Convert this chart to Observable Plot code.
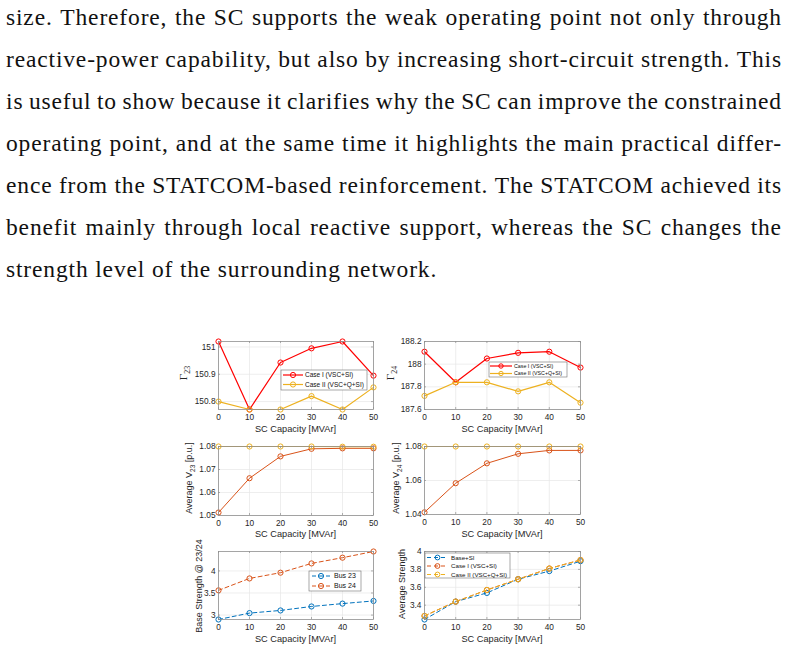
<!DOCTYPE html>
<html>
<head>
<meta charset="utf-8">
<script src="https://cdn.jsdelivr.net/npm/d3@7"></script>
<script src="https://cdn.jsdelivr.net/npm/@observablehq/plot@0.6"></script>
<style>
  html, body { margin: 0; padding: 0; background: #fff; }
  #page { position: relative; width: 788px; height: 651px; overflow: hidden; background: #fff; }
  #text { position: absolute; left: 6px; top: -4px; width: 776px;
          font-family: "Liberation Serif", serif; font-size: 23.5px; letter-spacing: 0.85px; color: #111; }
  .ln { height: 42px; line-height: 42px; white-space: nowrap; width: 776px; }
  .ln.flex { display: flex; justify-content: space-between; }
</style>
</head>
<body>
<div id="page">
  <div id="text"></div>
</div>
<script>
// ---------------- data ----------------
const paragraphLines = [
  "size. Therefore, the SC supports the weak operating point not only through",
  "reactive-power capability, but also by increasing short-circuit strength. This",
  "is useful to show because it clarifies why the SC can improve the constrained",
  "operating point, and at the same time it highlights the main practical differ-",
  "ence from the STATCOM-based reinforcement. The STATCOM achieved its",
  "benefit mainly through local reactive support, whereas the SC changes the",
  "strength level of the surrounding network."
];

const scCapacity = [0, 10, 20, 30, 40, 50];
const xTicks = [0, 10, 20, 30, 40, 50];

const gamma23CaseI  = [151.02, 150.771, 150.943, 150.995, 151.02, 150.895];
const gamma23CaseII = [150.80, 150.771, 150.771, 150.82, 150.771, 150.852];
const gamma23Ticks  = [150.8, 150.9, 151];
const gamma23Range  = [150.771, 151.02];

const gamma24CaseI  = [188.11, 187.84, 188.05, 188.10, 188.11, 187.97];
const gamma24CaseII = [187.72, 187.84, 187.84, 187.76, 187.84, 187.66];
const gamma24Ticks  = [187.6, 187.8, 188, 188.2];
const gamma24Range  = [187.6, 188.2];

const v23CaseI  = [1.0513, 1.0662, 1.0757, 1.0790, 1.0792, 1.0792];
const v23CaseII = [1.0800, 1.0800, 1.0800, 1.0800, 1.0799, 1.0799];
const v23Ticks  = [1.05, 1.06, 1.07, 1.08];
const v23Range  = [1.05, 1.08];

const v24CaseI  = [1.0413, 1.0584, 1.0701, 1.0757, 1.0777, 1.0777];
const v24CaseII = [1.0800, 1.0800, 1.0800, 1.0800, 1.0800, 1.0800];
const v24Ticks  = [1.04, 1.06, 1.08];
const v24Range  = [1.04, 1.08];

const strengthBus23 = [2.90, 3.045, 3.105, 3.195, 3.26, 3.32];
const strengthBus24 = [3.56, 3.83, 3.96, 4.17, 4.30, 4.44];
const baseStrengthTicks = [3, 3.5, 4];
const baseStrengthRange = [2.9, 4.44];

const avgStrengthBase   = [3.24, 3.44, 3.537, 3.69, 3.781, 3.892];
const avgStrengthCaseI  = [3.28, 3.44, 3.57, 3.69, 3.81, 3.905];
const avgStrengthCaseII = [3.28, 3.44, 3.57, 3.69, 3.81, 3.905];
const avgStrengthTicks  = [3.4, 3.6, 3.8, 4];
const avgStrengthRange  = [3.24, 4];

const labelCaseI  = "Case I (VSC+SI)";
const labelCaseII = "Case II (VSC+Q+SI)";
const labelBus23  = "Bus 23";
const labelBus24  = "Bus 24";
const labelBase   = "Base+SI";
const xLabel      = "SC Capacity [MVAr]";

// ---------------- styles ----------------
const RED = "#ff0000", YEL = "#edb120", ORA = "#d95319", BLU = "#0072bd";
const GRID = "#e6e6e6", FRAME = "#8f8f8f", TXT = "#262626";
const SANS = "Liberation Sans, Arial, sans-serif";
const SERIF = "Liberation Serif, serif";

// paragraph: every line except the last is justified to the full width
const textDiv = document.getElementById("text");
const BASE_LS = 0.85, MIN_GAP = 5.5, LINE_W = 776;
paragraphLines.forEach((t, i) => {
  const last = i === paragraphLines.length - 1;
  const d = document.createElement("div");
  d.className = "ln" + (last ? "" : " flex");
  textDiv.appendChild(d);
  if (last) { d.textContent = t; return; }
  const words = t.split(" ");
  const spans = words.map(w => {
    const s = document.createElement("span");
    s.textContent = w;
    d.appendChild(s);
    return s;
  });
  const wsum = spans.reduce((a, s) => a + s.getBoundingClientRect().width, 0);
  const avail = LINE_W - MIN_GAP * (words.length - 1);
  if (wsum > avail) {
    const chars = t.replace(/ /g, "").length;
    d.style.letterSpacing = (BASE_LS - (wsum - avail) / chars) + "px";
  }
});

const panels = [
  { frame: [218, 373, 341, 409], domain: gamma23Range, yTicks: gamma23Ticks,
    series: [{ values: gamma23CaseI, color: RED, label: labelCaseI, w: 1.2 },
             { values: gamma23CaseII, color: YEL, label: labelCaseII, w: 1.2 }],
    ylabel: { x: 187, y: 373, font: SERIF, size: 11, parts: [["Γ"], ["23", true]] },
    xlab: 432,
    legend: { box: [281, 367, 370, 390], rows: [375, 384.5], line: [283, 303], text: 305, size: 6.5, r: 2.6 } },
  { frame: [424, 580, 341, 409], domain: gamma24Range, yTicks: gamma24Ticks,
    series: [{ values: gamma24CaseI, color: RED, label: labelCaseI, w: 1.2 },
             { values: gamma24CaseII, color: YEL, label: labelCaseII, w: 1.2 }],
    ylabel: { x: 394, y: 373, font: SERIF, size: 11, parts: [["Γ"], ["24", true]] },
    xlab: 432,
    legend: { box: [489, 567, 362, 377], rows: [366, 373.5], line: [490, 512], text: 514, size: 5.3, r: 2.2 } },
  { frame: [218, 373, 446, 515], domain: v23Range, yTicks: v23Ticks,
    series: [{ values: v23CaseI, color: ORA, w: 1 },
             { values: v23CaseII, color: YEL, w: 1.2 }],
    ylabel: { x: 192, y: 478, font: SANS, size: 9, parts: [["Average V"], ["23", true], [" [p.u.]"]] },
    xlab: 537 },
  { frame: [424, 580, 446, 514], domain: v24Range, yTicks: v24Ticks,
    series: [{ values: v24CaseI, color: ORA, w: 1 },
             { values: v24CaseII, color: YEL, w: 1.2 }],
    ylabel: { x: 399, y: 478, font: SANS, size: 9, parts: [["Average V"], ["24", true], [" [p.u.]"]] },
    xlab: 537 },
  { frame: [218, 373, 551, 619], domain: baseStrengthRange, yTicks: baseStrengthTicks,
    series: [{ values: strengthBus23, color: BLU, label: labelBus23, dash: "4,3", w: 1 },
             { values: strengthBus24, color: ORA, label: labelBus24, dash: "4,3", w: 1 }],
    ylabel: { x: 202, y: 586, font: SANS, size: 9, parts: [["Base Strength @ 23/24"]] },
    xlab: 642,
    legend: { box: [309, 361, 571, 591], rows: [576, 586], line: [312, 330], text: 334, size: 7, r: 2.6, dash: "4,3" } },
  { frame: [424, 580, 551, 619], domain: avgStrengthRange, yTicks: avgStrengthTicks,
    series: [{ values: avgStrengthBase, color: BLU, label: labelBase, dash: "4,3", w: 1 },
             { values: avgStrengthCaseI, color: ORA, label: labelCaseI, dash: "4,3", w: 1 },
             { values: avgStrengthCaseII, color: YEL, label: labelCaseII, dash: "4,3", w: 1 }],
    ylabel: { x: 405, y: 584, font: SANS, size: 9, parts: [["Average Strength"]] },
    xlab: 642,
    legend: { box: [425, 510, 553, 578], rows: [557.5, 566, 574.5], line: [427, 448], text: 451, size: 6.2, r: 2.4, dash: "4,3" } }
];

const page = document.getElementById("page");

for (const p of panels) {
  const [x0, x1, y0, y1] = p.frame;
  const ML = 52, MR = 14, MT = 10, MB = 36;
  const pw = x1 - x0, ph = y1 - y0;
  const W = pw + ML + MR, H = ph + MT + MB;
  const marks = [
    Plot.gridX(xTicks, { stroke: GRID, strokeOpacity: 1, strokeWidth: 0.7 }),
    Plot.gridY(p.yTicks, { stroke: GRID, strokeOpacity: 1, strokeWidth: 0.7 })
  ];
  for (const s of p.series) {
    const data = scCapacity.map((x, i) => ({ x, y: s.values[i] }));
    marks.push(Plot.line(data, { x: "x", y: "y", stroke: s.color, strokeWidth: s.w, strokeDasharray: s.dash }));
    marks.push(Plot.dot(data, { x: "x", y: "y", r: 2.6, stroke: s.color, fill: "none", strokeWidth: 1 }));
  }
  marks.push(Plot.frame({ stroke: FRAME, strokeWidth: 0.8 }));
  marks.push(Plot.tickX(xTicks, { x: d => d, insetTop: ph - 2, stroke: FRAME, strokeWidth: 0.7 }));
  marks.push(Plot.tickX(xTicks, { x: d => d, insetBottom: ph - 2, stroke: FRAME, strokeWidth: 0.7 }));
  marks.push(Plot.tickY(p.yTicks, { y: d => d, insetRight: pw - 2, stroke: FRAME, strokeWidth: 0.7 }));
  marks.push(Plot.tickY(p.yTicks, { y: d => d, insetLeft: pw - 2, stroke: FRAME, strokeWidth: 0.7 }));
  marks.push(Plot.axisX(xTicks, { tickSize: 0, tickPadding: 5, fontSize: 8.3, fill: TXT, label: null }));
  marks.push(Plot.axisY(p.yTicks, { tickSize: 0, tickPadding: 3, fontSize: 8.3, fill: TXT, label: null, tickFormat: d => String(d) }));

  const svg = Plot.plot({
    width: W, height: H,
    marginLeft: ML, marginRight: MR, marginTop: MT, marginBottom: MB,
    x: { domain: [0, 50], axis: null },
    y: { domain: p.domain, axis: null },
    style: { background: "transparent", overflow: "visible", fontFamily: SANS, fontSize: "8.3px", color: TXT },
    marks
  });
  const ox = x0 - ML, oy = y0 - MT;
  svg.style.position = "absolute";
  svg.style.left = ox + "px";
  svg.style.top = oy + "px";
  svg.style.maxWidth = "none";
  page.appendChild(svg);

  const g = d3.select(svg);
  // x label
  g.append("text")
    .attr("x", (x0 + x1) / 2 - ox).attr("y", p.xlab - oy)
    .attr("text-anchor", "middle").attr("font-family", SANS).attr("font-size", 9.2)
    .attr("fill", TXT).text(xLabel);
  // y label
  const yl = p.ylabel;
  const t = g.append("text")
    .attr("transform", `translate(${yl.x - ox},${yl.y - oy}) rotate(-90)`)
    .attr("text-anchor", "middle").attr("font-family", yl.font).attr("font-size", yl.size)
    .attr("fill", TXT);
  let shifted = false;
  for (const [txt, sub] of yl.parts) {
    const ts = t.append("tspan").text(txt);
    if (sub) { ts.attr("dy", yl.size * 0.3).attr("font-size", yl.size * 0.72); shifted = true; }
    else if (shifted) { ts.attr("dy", -yl.size * 0.3); shifted = false; }
  }
  // legend
  if (p.legend) {
    const L = p.legend;
    const lg = g.append("g").attr("text-anchor", "start");
    lg.append("rect")
      .attr("x", L.box[0] - ox).attr("y", L.box[2] - oy)
      .attr("width", L.box[1] - L.box[0]).attr("height", L.box[3] - L.box[2])
      .attr("fill", "#fff").attr("stroke", "#6e6e6e").attr("stroke-width", 0.6);
    p.series.forEach((s, i) => {
      const yy = L.rows[i] - oy;
      lg.append("line")
        .attr("x1", L.line[0] - ox).attr("x2", L.line[1] - ox).attr("y1", yy).attr("y2", yy)
        .attr("stroke", s.color).attr("stroke-width", s.w).attr("stroke-dasharray", L.dash || null);
      lg.append("circle")
        .attr("cx", (L.line[0] + L.line[1]) / 2 - ox).attr("cy", yy).attr("r", L.r)
        .attr("fill", "none").attr("stroke", s.color).attr("stroke-width", 1);
      lg.append("text")
        .attr("x", L.text - ox).attr("y", yy).attr("dy", "0.35em")
        .attr("text-anchor", "start")
        .attr("font-family", SANS).attr("font-size", L.size).attr("fill", "#111")
        .text(s.label);
    });
  }
}
</script>
</body>
</html>
